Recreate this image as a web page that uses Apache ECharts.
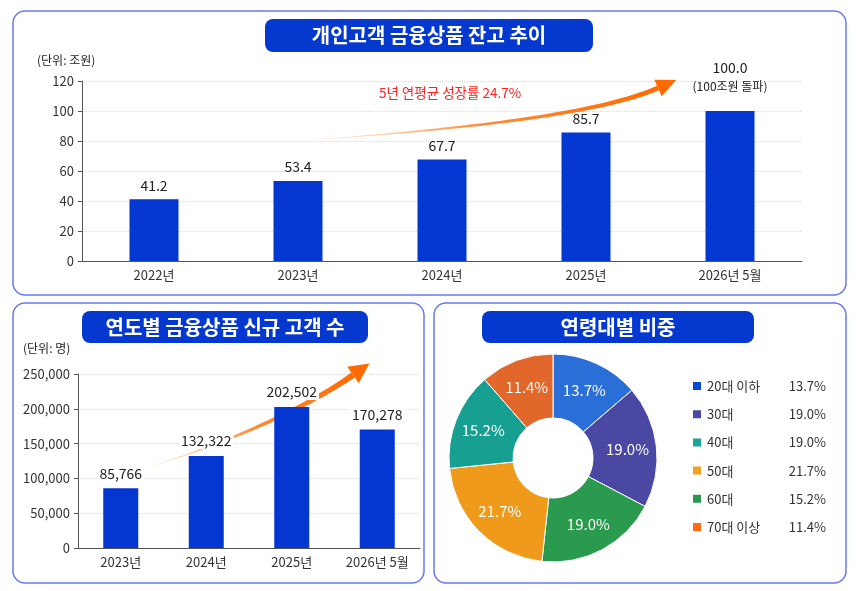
<!DOCTYPE html>
<html>
<head>
<meta charset="utf-8">
<script src="https://cdn.jsdelivr.net/npm/echarts@6/dist/echarts.min.js"></script>
<style>
  html, body { margin: 0; padding: 0; background: #fff; }
  #main { width: 860px; height: 591px; }
</style>
</head>
<body>
<div id="main"></div>
<script>
const FONT = '"Noto Sans CJK KR", "Noto Sans", sans-serif';

// 개인고객 금융상품 잔고 (조원)
const balanceYears = ['2022년', '2023년', '2024년', '2025년', '2026년 5월'];
const balanceValues = [41.2, 53.4, 67.7, 85.7, 100.0];
const balanceNote = '(100조원 돌파)';
const growthText = '5년 연평균 성장률 24.7%';

// 신규 고객 수 (명)
const newCustYears = ['2023년', '2024년', '2025년', '2026년 5월'];
const newCustValues = [85766, 132322, 202502, 170278];

// 연령대별 비중
const ageGroups = ['20대 이하', '30대', '40대', '50대', '60대', '70대 이상'];
const ageLegendPct = [13.7, 19.0, 19.0, 21.7, 15.2, 11.4];
const ageSlicePct = [13.7, 19.0, 15.2, 21.7, 19.0, 11.4];
const sliceOrder = [0, 1, 4, 3, 2, 5];
const sliceColors = ['#2a6ed8', '#4a48a2', '#17a092', '#ef9a1b', '#2a9a4f', '#e2672b'];
const legendColors = ['#0a48d2', '#4a48a2', '#1aa59a', '#f2a021', '#2a9a4f', '#ff6a12'];

const BAR = '#0437d2';
const TITLE_BG = '#0438cf';
const PANEL = '#6878f2';

function cubic(p0, c1, c2, p1, t) {
  const u = 1 - t;
  return [
    u * u * u * p0[0] + 3 * u * u * t * c1[0] + 3 * u * t * t * c2[0] + t * t * t * p1[0],
    u * u * u * p0[1] + 3 * u * u * t * c1[1] + 3 * u * t * t * c2[1] + t * t * t * p1[1]
  ];
}

// tapered curved arrow -> two polygons
function arrow(p0, c1, c2, p1, w0, w1, headLen, headHalf) {
  const n = 40, left = [], right = [];
  for (let i = 0; i <= n; i++) {
    const t = i / n;
    const a = cubic(p0, c1, c2, p1, Math.max(0, t - 0.01));
    const b = cubic(p0, c1, c2, p1, Math.min(1, t + 0.01));
    let dx = b[0] - a[0], dy = b[1] - a[1];
    const len = Math.hypot(dx, dy);
    dx /= len; dy /= len;
    const pt = cubic(p0, c1, c2, p1, t);
    const w = (w0 + (w1 - w0) * t) / 2;
    left.push([pt[0] - dy * w, pt[1] + dx * w]);
    right.push([pt[0] + dy * w, pt[1] - dx * w]);
  }
  let dx = p1[0] - c2[0], dy = p1[1] - c2[1];
  const len = Math.hypot(dx, dy);
  dx /= len; dy /= len;
  const head = [
    [p1[0] - dy * headHalf, p1[1] + dx * headHalf],
    [p1[0] + dx * headLen, p1[1] + dy * headLen],
    [p1[0] + dy * headHalf, p1[1] - dx * headHalf]
  ];
  const grad = new echarts.graphic.LinearGradient(0, 0, 1, 0, [
    { offset: 0, color: 'rgba(255,150,60,0.1)' },
    { offset: 0.5, color: 'rgba(255,120,20,0.85)' },
    { offset: 1, color: '#ff6a00' }
  ]);
  return [
    { type: 'polygon', z: 1, shape: { points: left.concat(right.reverse()) }, style: { fill: grad } },
    { type: 'polygon', z: 1, shape: { points: head }, style: { fill: '#ff6a00' } }
  ];
}

function panel(x, y, w, h) {
  return { type: 'rect', z: -10, shape: { x: x, y: y, width: w, height: h, r: 12 },
    style: { fill: 'transparent', stroke: PANEL, lineWidth: 1.5 } };
}
function titleBox(x, y, w, h, text) {
  return [
    { type: 'rect', z: 10, shape: { x: x, y: y, width: w, height: h, r: 8 }, style: { fill: TITLE_BG } },
    { type: 'text', z: 11, x: x + w / 2, y: y + h / 2,
      style: { text: text, fill: '#fff', fontSize: 20, fontWeight: 'bold', fontFamily: FONT,
        align: 'center', verticalAlign: 'middle' } }
  ];
}
function note(x, y, text, color, size, align) {
  return { type: 'text', z: 11, x: x, y: y,
    style: { text: text, fill: color, fontSize: size, fontFamily: FONT,
      align: align || 'left', verticalAlign: 'middle' } };
}

const chart = echarts.init(document.getElementById('main'));

const axisLabel = { fontSize: 13, color: '#333', fontFamily: FONT, margin: 8 };
const axisLine = { show: true, lineStyle: { color: '#555', width: 1 } };
const splitLine = { show: true, lineStyle: { type: 'dotted', color: '#dcdcdc' } };

chart.setOption({
  animation: false,
  textStyle: { fontFamily: FONT },
  grid: [
    { left: 82, top: 81, width: 720, height: 180 },
    { left: 78, top: 374, width: 342, height: 174 }
  ],
  xAxis: [
    { gridIndex: 0, type: 'category', data: balanceYears, axisLine: axisLine,
      axisTick: { show: false }, axisLabel: axisLabel },
    { gridIndex: 1, type: 'category', data: newCustYears, axisLine: axisLine,
      axisTick: { show: false }, axisLabel: axisLabel }
  ],
  yAxis: [
    { gridIndex: 0, type: 'value', min: 0, max: 120, interval: 20,
      axisLine: axisLine, axisTick: { show: true, length: 4, lineStyle: { color: '#555' } },
      axisLabel: axisLabel, splitLine: splitLine },
    { gridIndex: 1, type: 'value', min: 0, max: 250000, interval: 50000,
      axisLine: axisLine, axisTick: { show: true, length: 4, lineStyle: { color: '#555' } },
      axisLabel: Object.assign({}, axisLabel, { formatter: v => v.toLocaleString('en-US') }),
      splitLine: splitLine }
  ],
  legend: {
    orient: 'vertical', left: 686, top: 373,
    itemWidth: 10, itemHeight: 10, itemGap: 12.2,
    icon: 'rect',
    selectedMode: false,
    data: ageGroups.map((g, i) => ({ name: g, itemStyle: { color: legendColors[i] } })),
    formatter: name => {
      const i = ageGroups.indexOf(name);
      return '{n|' + name + '}{v|' + ageLegendPct[i].toFixed(1) + '%}';
    },
    textStyle: {
      fontFamily: FONT, fontSize: 13, color: '#333',
      rich: {
        n: { width: 87, fontSize: 13, color: '#333', lineHeight: 16, height: 16 },
        v: { width: 32, align: 'right', fontSize: 13, color: '#333', lineHeight: 16, height: 16 }
      }
    }
  },
  series: [
    {
      type: 'bar', xAxisIndex: 0, yAxisIndex: 0, barWidth: 49,
      itemStyle: { color: BAR },
      label: { show: true, position: 'top', distance: 7, fontSize: 14, color: '#222',
        formatter: p => p.value.toFixed(1) },
      data: balanceValues.map((v, i) => i === balanceValues.length - 1 ? {
        value: v,
        label: {
          distance: 16,
          formatter: '{a|' + v.toFixed(1) + '}\n{b|' + balanceNote + '}',
          rich: {
            a: { fontSize: 14, color: '#222', lineHeight: 18, fontFamily: FONT },
            b: { fontSize: 12, color: '#222', lineHeight: 18, fontFamily: FONT }
          }
        }
      } : v)
    },
    {
      type: 'bar', xAxisIndex: 1, yAxisIndex: 1, barWidth: 35,
      itemStyle: { color: BAR },
      label: { show: true, position: 'top', distance: 7, fontSize: 14, color: '#222',
        backgroundColor: '#fff', padding: [1, 2],
        formatter: p => p.value.toLocaleString('en-US') },
      data: newCustValues
    },
    {
      type: 'pie', center: [553, 458], radius: [40, 104], startAngle: 90, clockwise: true,
      avoidLabelOverlap: false,
      itemStyle: { borderColor: '#fff', borderWidth: 1 },
      label: { show: true, position: 'inside', color: '#fff', fontSize: 15,
        fontFamily: FONT, formatter: p => p.value.toFixed(1) + '%' },
      labelLine: { show: false },
      emphasis: { disabled: true },
      data: sliceOrder.map(i => ({ name: ageGroups[i], value: ageSlicePct[i],
        itemStyle: { color: sliceColors[i] } }))
    }
  ],
  graphic: [
    panel(13, 11, 833, 284),
    panel(13, 303, 411, 280),
    panel(434, 303, 412, 280),
    ...titleBox(265, 19, 328, 33, '개인고객 금융상품 잔고 추이'),
    ...titleBox(82, 311, 286, 32, '연도별 금융상품 신규 고객 수'),
    ...titleBox(482, 311, 272, 32, '연령대별 비중'),
    note(37, 60, '(단위: 조원)', '#222', 12),
    note(23, 348, '(단위: 명)', '#222', 12),
    note(450, 93, growthText, '#ff2020', 13.5, 'center'),
    ...arrow([310, 140], [420, 132], [590, 118], [658, 88], 0.5, 5, 20, 9),
    ...arrow([152, 466], [220, 445], [300, 412], [353, 375], 0.5, 6, 20, 10)
  ]
});
</script>
</body>
</html>
